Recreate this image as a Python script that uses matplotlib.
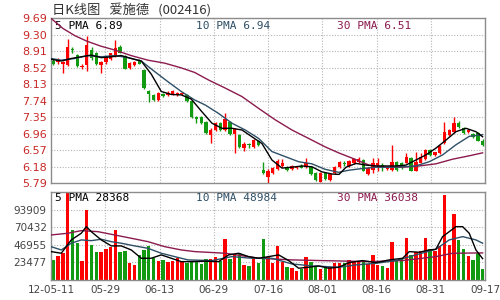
import matplotlib
matplotlib.use("Agg")
import matplotlib.pyplot as plt

plt.rcParams['font.family'] = ['DejaVu Sans']

# daily candles, index 0 = 12-05-11 ... 90 = 09-17
opens = [8.68, 8.66, 8.61, 8.59, 8.97, 8.82, 8.55, 8.59, 8.93, 8.86,
         8.58, 8.65, 8.72, 8.80, 9.00, 8.80, 8.52, 8.58, 8.70, 8.46,
         7.98, 7.88, 7.76, 7.90, 7.88, 7.89, 7.88, 7.90, 7.88, 7.74,
         7.36, 7.35, 7.25, 6.93, 7.06, 7.21, 7.05, 7.25, 6.96, 6.93,
         6.62, 6.73, 6.65, 6.80, 6.11, 5.95, 6.03, 6.12, 6.20, 6.17,
         6.12, 6.15, 6.20, 6.17, 6.17, 6.04, 5.83, 6.03, 5.87, 6.03,
         6.17, 6.28, 6.20, 6.26, 6.30, 6.34, 6.01, 6.10, 6.22, 6.22,
         6.12, 6.10, 6.30, 6.28, 6.28, 6.38, 6.09, 6.28, 6.36, 6.58,
         6.46, 6.51, 6.74, 6.93, 7.01, 7.22, 7.09, 7.00, 6.96, 6.99,
         6.80]
closes = [8.61, 8.70, 8.66, 9.02, 8.95, 8.57, 8.57, 9.06, 8.76, 8.60,
          8.65, 8.78, 8.86, 8.98, 8.88, 8.50, 8.63, 8.65, 8.61, 8.04,
          7.90, 7.76, 7.92, 7.86, 7.92, 7.97, 7.92, 7.92, 7.74, 7.36,
          7.31, 7.21, 6.97, 7.06, 7.21, 7.05, 7.30, 6.96, 7.07, 6.65,
          6.73, 6.69, 6.81, 6.70, 6.03, 6.09, 6.15, 6.32, 6.28, 6.11,
          6.20, 6.19, 6.16, 6.26, 6.01, 5.87, 6.03, 5.88, 6.01, 6.17,
          6.30, 6.24, 6.32, 6.36, 6.36, 6.09, 6.15, 6.28, 6.26, 6.18,
          6.17, 6.30, 6.10, 6.14, 6.40, 6.09, 6.30, 6.40, 6.58, 6.46,
          6.52, 6.67, 7.01, 7.05, 7.21, 7.13, 6.97, 7.06, 6.88, 6.80,
          6.70]
highs = [8.72, 8.74, 8.68, 9.19, 9.01, 8.85, 8.62, 9.27, 9.00, 8.89,
         8.67, 8.80, 8.88, 9.17, 9.07, 8.82, 8.65, 8.67, 8.72, 8.48,
         8.00, 7.90, 7.94, 7.92, 7.96, 8.00, 7.95, 7.95, 7.90, 7.76,
         7.38, 7.37, 7.27, 7.10, 7.25, 7.23, 7.44, 7.27, 7.09, 6.95,
         6.76, 6.75, 6.84, 6.82, 6.30, 6.12, 6.17, 6.36, 6.36, 6.19,
         6.22, 6.21, 6.24, 6.38, 6.20, 6.06, 6.05, 6.05, 6.03, 6.19,
         6.32, 6.32, 6.34, 6.38, 6.40, 6.36, 6.17, 6.38, 6.38, 6.26,
         6.20, 6.70, 6.32, 6.30, 6.50, 6.40, 6.52, 6.50, 6.60, 6.60,
         6.54, 6.69, 7.25, 7.07, 7.35, 7.26, 7.11, 7.08, 6.98, 7.01,
         6.84]
lows = [8.58, 8.62, 8.40, 8.57, 8.88, 8.55, 8.50, 8.45, 8.70, 8.58,
        8.40, 8.62, 8.70, 8.78, 8.86, 8.48, 8.50, 8.56, 8.60, 8.02,
        7.70, 7.74, 7.74, 7.84, 7.86, 7.87, 7.86, 7.88, 7.72, 7.34,
        7.21, 7.19, 6.95, 6.75, 7.02, 7.03, 7.03, 6.94, 6.50, 6.63,
        6.55, 6.62, 6.63, 6.68, 6.02, 5.80, 6.01, 6.10, 6.18, 6.09,
        6.10, 6.13, 6.14, 6.15, 5.99, 5.85, 5.81, 5.86, 5.85, 6.01,
        6.15, 6.20, 6.18, 6.24, 6.28, 6.07, 5.99, 6.03, 6.08, 6.08,
        6.10, 6.08, 6.08, 6.12, 6.26, 6.07, 6.07, 6.26, 6.34, 6.44,
        6.44, 6.49, 6.72, 6.91, 6.99, 7.10, 6.95, 6.98, 6.86, 6.78,
        6.66]
volumes = [26700, 32000, 35600, 117000, 66700, 49800, 25800, 93400, 46700, 37800,
           37800, 41400, 43600, 66700, 37800, 39100, 23100, 20000, 33400, 40000,
           45400, 28900, 25800, 26700, 24500, 25800, 28900, 24500, 23100, 24500,
           24500, 21300, 28000, 28000, 31100, 25800, 54700, 28000, 33400, 36400,
           20000, 18700, 31100, 23100, 54700, 30200, 23100, 45400, 24500, 16900,
           15600, 12400, 14700, 31100, 24500, 16900, 14200, 15600, 17800, 22200,
           23100, 23100, 26700, 24900, 24000, 24900, 21300, 33400, 20000, 18700,
           15600, 51100, 26700, 27600, 55600, 33400, 36900, 39100, 55600, 40900,
           38700, 45400, 113800, 46700, 88000, 53400, 41400, 32000, 26700, 36400,
           14700]

# moving-average lines: (candle index, value)
pma5_x = [-0.5, 1.66, 3.75, 5.85, 7.95, 10.04, 12.14, 14.23, 16.33, 18.43,
          20.52, 22.62, 24.72, 26.81, 28.91, 31.15, 33.25, 35.35, 37.44, 39.54,
          41.63, 43.73, 45.83, 47.93, 50.02, 52.12, 54.21, 56.31, 58.41, 59.9,
          61.35, 63.45, 65.55, 67.63, 69.7, 71.8, 73.9, 76.0, 78.1, 80.2,
          82.3, 84.4, 86.5, 88.6, 90.0]
pma5_y = [8.72, 8.68, 8.74, 8.78, 8.82, 8.76, 8.78, 8.81, 8.74, 8.68,
          8.37, 7.96, 7.89, 7.88, 7.78, 7.48, 7.21, 7.09, 7.09, 7.05,
          6.89, 6.73, 6.34, 6.15, 6.17, 6.20, 6.18, 6.06, 6.01, 6.00,
          6.17, 6.26, 6.22, 6.20, 6.20, 6.20, 6.22, 6.34, 6.46, 6.62,
          6.81, 7.01, 7.09, 7.01, 6.89]
pma10_x = [-0.5, 1.66, 4.46, 7.25, 10.04, 12.85, 15.64, 18.43, 21.24, 24.03,
           26.81, 29.62, 31.85, 34.65, 37.44, 40.23, 43.04, 45.83, 48.62, 51.43,
           54.21, 57.0, 59.8, 62.0, 64.84, 67.63, 70.4, 73.2, 76.0, 78.8,
           81.6, 84.4, 87.2, 90.0]
pma10_y = [8.74, 8.70, 8.74, 8.81, 8.78, 8.81, 8.76, 8.68, 8.43, 8.19,
           7.96, 7.76, 7.64, 7.44, 7.21, 7.05, 6.85, 6.54, 6.42, 6.30,
           6.25, 6.12, 6.05, 6.10, 6.14, 6.17, 6.17, 6.18, 6.20, 6.30,
           6.46, 6.70, 6.90, 6.94]
pma30_x = [-0.5, 2.0, 4.5, 7.0, 10.0, 12.85, 16.27, 19.83, 23.33, 26.75,
           29.62, 32.56, 36.04, 39.54, 43.04, 46.52, 50.02, 53.52, 57.0, 59.8,
           62.75, 66.2, 69.7, 73.2, 76.7, 80.2, 83.7, 87.2, 90.0]
pma30_y = [9.69, 9.45, 9.28, 9.15, 9.03, 8.94, 8.81, 8.70, 8.63, 8.52,
           8.41, 8.23, 8.04, 7.84, 7.56, 7.29, 7.05, 6.85, 6.65, 6.51,
           6.38, 6.22, 6.17, 6.17, 6.20, 6.25, 6.36, 6.44, 6.51]

vma5_x = [-0.5, 1.66, 3.75, 5.85, 6.9, 7.95, 10.04, 12.14, 14.23, 16.33,
          18.43, 20.52, 22.62, 24.72, 26.81, 29.06, 31.85, 34.65, 36.75, 38.85,
          40.94, 43.04, 45.14, 47.23, 49.33, 51.43, 53.52, 55.62, 57.72, 59.8,
          62.03, 64.84, 67.63, 70.42, 73.23, 74.61, 76.71, 78.8, 80.2, 81.61,
          83.0, 84.4, 85.81, 87.19, 88.6, 90.0]
vma5_y = [37800, 35600, 53400, 62300, 71100, 64400, 53400, 45400, 45400, 40000,
          28900, 28900, 33400, 28900, 24400, 24400, 25000, 24400, 33400, 35600,
          31100, 28900, 31100, 33400, 25800, 15600, 16900, 18700, 15600, 16900,
          23100, 25800, 23100, 26700, 28900, 37800, 36900, 40000, 40900, 57800,
          64400, 71100, 71100, 62300, 40000, 28368]
vma10_x = [-0.5, 1.66, 3.75, 5.85, 7.95, 10.04, 12.14, 14.23, 17.04, 19.83,
           22.62, 25.43, 28.22, 33.25, 37.44, 41.63, 45.83, 50.02, 54.21, 59.8,
           63.44, 67.63, 71.82, 76.0, 80.2, 83.0, 85.81, 88.6, 90.0]
vma10_y = [44400, 40000, 49000, 53400, 52400, 54300, 51100, 49000, 45400, 42200,
           35600, 31100, 26700, 25800, 31100, 28900, 28900, 21300, 18700, 16900,
           20000, 22200, 25800, 33400, 40900, 53400, 57800, 53400, 48984]
vma30_x = [-0.5, 3.06, 5.85, 9.35, 12.85, 16.33, 19.83, 23.33, 26.81, 29.62,
           36.04, 43.04, 50.02, 59.8, 66.2, 73.2, 80.2, 83.7, 90.0]
vma30_y = [60000, 62300, 65800, 64400, 60000, 55600, 51100, 44400, 40000, 37800,
           35600, 28900, 26700, 25300, 24400, 25800, 31100, 35600, 36038]

price_ticks = [5.79, 6.18, 6.57, 6.96, 7.35, 7.74, 8.13, 8.52, 8.91, 9.30, 9.69]
vol_ticks = [23477, 46955, 70432, 93909]
date_labels = ['12-05-11', '05-29', '06-13', '06-29', '07-16',
               '08-01', '08-16', '08-31', '09-17']

RED = '#ff0000'
GREEN = '#139a13'
C5 = '#000000'
C10 = '#2e4f66'
C30 = '#8b1a4e'
FRAME = '#8c8c8c'
GRID = '#b4b4b4'

fig = plt.figure(figsize=(5, 3), dpi=100)
ax = fig.add_axes([0.102, 0.389, 0.868, 0.550])
axv = fig.add_axes([0.102, 0.067, 0.868, 0.293])

n = len(closes)
idx = list(range(n))
cols = [RED if c >= o else GREEN for o, c in zip(opens, closes)]
bottoms = [min(o, c) for o, c in zip(opens, closes)]
heights = [max(abs(c - o), 0.012) for o, c in zip(opens, closes)]

grid_x = [-0.5 + n * j / 8 for j in range(9)]

# price panel
for g in grid_x[1:-1]:
    ax.axvline(g, color=GRID, lw=0.8, ls=(0, (1, 1.5)), zorder=0)
for t in price_ticks[1:-1]:
    ax.axhline(t, color=GRID, lw=0.8, ls=(0, (1, 1.5)), zorder=0)
ax.vlines(idx, lows, highs, colors=cols, lw=1, zorder=2)
ax.bar(idx, heights, bottom=bottoms, width=0.72, color=cols, lw=0, zorder=3)
ax.plot(pma30_x, pma30_y, color=C30, lw=1, zorder=4)
ax.plot(pma10_x, pma10_y, color=C10, lw=1, zorder=4)
ax.plot(pma5_x, pma5_y, color=C5, lw=1, zorder=5)
ax.set_xlim(-0.5, n - 0.5)
ax.set_ylim(5.79, 9.69)
ax.set_yticks(price_ticks)
ax.set_yticklabels(['%.2f' % t for t in price_ticks])
ax.set_xticks([])
ax.tick_params(axis='y', length=0, pad=3, labelsize=8, labelcolor='#c82828')

mono = 'DejaVu Sans Mono'
ax.text(0.01, 0.985, '5 PMA %.2f' % pma5_y[-1], transform=ax.transAxes,
        ha='left', va='top', fontsize=8, family=mono, color=C5)
ax.text(0.335, 0.985, '10 PMA %.2f' % pma10_y[-1], transform=ax.transAxes,
        ha='left', va='top', fontsize=8, family=mono, color=C10)
ax.text(0.66, 0.985, '30 PMA %.2f' % pma30_y[-1], transform=ax.transAxes,
        ha='left', va='top', fontsize=8, family=mono, color=C30)

# volume panel
for g in grid_x[1:-1]:
    axv.axvline(g, color=GRID, lw=0.8, ls=(0, (1, 1.5)), zorder=0)
for t in vol_ticks:
    axv.axhline(t, color=GRID, lw=0.8, ls=(0, (1, 1.5)), zorder=0)
axv.bar(idx, volumes, width=0.72, color=cols, lw=0, zorder=2)
axv.plot(vma30_x, vma30_y, color=C30, lw=1, zorder=3)
axv.plot(vma10_x, vma10_y, color=C10, lw=1, zorder=3)
axv.plot(vma5_x, vma5_y, color=C5, lw=1, zorder=4)
axv.set_xlim(-0.5, n - 0.5)
axv.set_ylim(0, 117385)
axv.set_yticks(vol_ticks)
axv.set_yticklabels([str(t) for t in vol_ticks])
axv.set_xticks(grid_x)
axv.set_xticklabels(date_labels)
axv.tick_params(axis='y', length=0, pad=3, labelsize=7.5, labelcolor='#444444')
axv.tick_params(axis='x', length=0, pad=4, labelsize=7.5, labelcolor='#444444')

axv.text(0.01, 0.985, '5 PMA %d' % vma5_y[-1], transform=axv.transAxes,
         ha='left', va='top', fontsize=8, family=mono, color=C5)
axv.text(0.335, 0.985, '10 PMA %d' % vma10_y[-1], transform=axv.transAxes,
         ha='left', va='top', fontsize=8, family=mono, color=C10)
axv.text(0.66, 0.985, '30 PMA %d' % vma30_y[-1], transform=axv.transAxes,
         ha='left', va='top', fontsize=8, family=mono, color=C30)

for a in (ax, axv):
    for s in a.spines.values():
        s.set_color(FRAME)
        s.set_linewidth(1)

fig.text(0.104, 0.966, '日K线图   爱施德   (002416)', ha='left', va='center',
         fontsize=9.5, color='#333333', family=['Noto Sans CJK SC', 'DejaVu Sans'])

fig.savefig('out.png', dpi=100)
